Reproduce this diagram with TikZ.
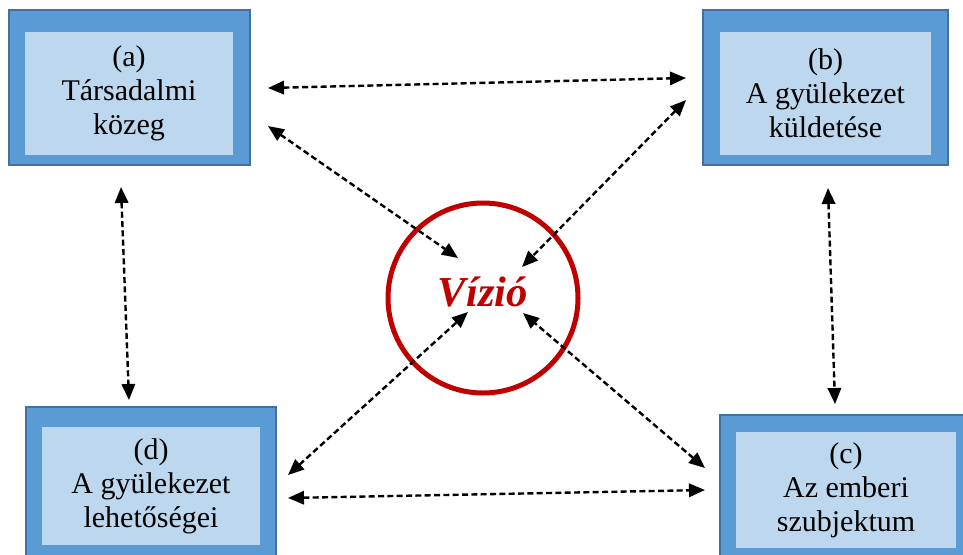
\documentclass[tikz,border=0pt]{standalone}
\usepackage{fontspec}
\setmainfont{Liberation Serif}
\usetikzlibrary{arrows.meta,calc}
\definecolor{boxedge}{HTML}{41719C}
\definecolor{boxblue}{HTML}{5B9BD5}
\definecolor{boxlight}{HTML}{BDD7EE}
\definecolor{vizred}{HTML}{C00000}

\begin{document}
\begin{tikzpicture}[x=0.75pt,y=-0.75pt,
		frame/.style={rectangle, draw=boxedge, fill=boxblue, line width=1.2pt, inner sep=0pt, outer sep=0pt},
		panel/.style={rectangle, fill=boxlight, inner sep=0pt, align=center, font=\fontsize{22.5}{25.5}\selectfont},
		link/.style={line width=1.8pt, dash pattern=on 4.5pt off 2.5pt, {Triangle[length=12pt,width=10pt]}-{Triangle[length=12pt,width=10pt]}}]
		\useasboundingbox (0,0) rectangle (963,554);
		\node[frame, minimum width=180.75pt, minimum height=116.25pt] (tarsadalmi) at (129.5,87.5) {};
		\node[panel, minimum width=156pt, minimum height=92.25pt] (tarsadalmiin) at (129,93.5) {(a)\\Társadalmi\\közeg};
		\node[frame, minimum width=183.75pt, minimum height=116.25pt] (kuldetes) at (825.5,87.5) {};
		\node[panel, minimum width=158.25pt, minimum height=92.25pt] (kuldetesin) at (825.5,93.5) {(b)\\A gyülekezet\\küldetése};
		\node[frame, minimum width=189pt, minimum height=108.75pt] (szubjektum) at (846,487.5) {};
		\node[panel, minimum width=165pt, minimum height=87pt] (szubjektumin) at (846,490) {(c)\\Az emberi\\szubjektum};
		\node[frame, minimum width=187.5pt, minimum height=112.5pt] (lehetosegek) at (151,482) {};
		\node[panel, minimum width=163.5pt, minimum height=88.5pt] (lehetosegekin) at (151,486) {(d)\\A gyülekezet\\lehetőségei};
		\node[circle, draw=vizred, line width=3.75pt, minimum size=142.5pt, text depth=10pt, text=vizred, font=\fontsize{32}{32}\selectfont\bfseries\itshape] (vizio) at (483,298) {Vízió};
		\draw[link] ($(tarsadalmi.east)+(18,0.5)$) -- ($(kuldetes.west)+(-17,-9.5)$);
		\draw[link] ($(tarsadalmi.east)+(18,38.5)$) -- ($(vizio.center)+(-25,-40)$);
		\draw[link] ($(kuldetes.west)+(-17,12.5)$) -- ($(vizio.center)+(39,-31)$);
		\draw[link] ($(tarsadalmi.south)+(-8.5,22)$) -- ($(lehetosegek.north)+(-22,-7)$);
		\draw[link] ($(kuldetes.south)+(2.5,23)$) -- ($(szubjektum.north)+(-11,-11)$);
		\draw[link] ($(lehetosegek.east)+(12,-7)$) -- ($(vizio.center)+(-15,14)$);
		\draw[link] ($(szubjektum.west)+(-15,-19.5)$) -- ($(vizio.center)+(40,15)$);
		\draw[link] ($(lehetosegek.east)+(12,16)$) -- ($(szubjektum.west)+(-15,2.5)$);
	\end{tikzpicture}
\end{document}
